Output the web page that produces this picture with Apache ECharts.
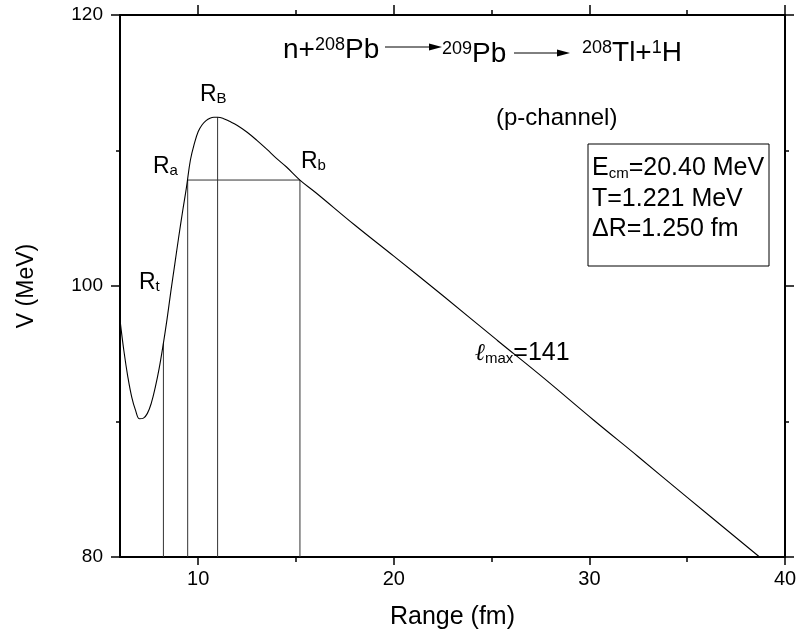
<!DOCTYPE html>
<html>
<head>
<meta charset="utf-8">
<script src="https://cdn.jsdelivr.net/npm/echarts@6/dist/echarts.min.js"></script>
<style>html,body{margin:0;padding:0;background:#fff;}#c{width:800px;height:641px;}</style>
</head>
<body>
<div id="c"></div>
<script>
// ---- data ----
const rangeFm = [6.0, 6.2, 6.4, 6.6, 6.8, 7.0, 7.2, 7.4, 7.6, 7.8, 8.0, 8.2, 8.4, 8.6, 8.8, 9.0, 9.2, 9.4, 9.6, 9.8, 10.0, 10.2, 10.4, 10.6, 10.8, 11.0, 11.3, 11.6, 12.0, 12.5, 13.0, 13.5, 14.0, 14.5, 15.2, 16.0, 18.0, 20.0, 22.5, 25.28, 27.5, 30.21, 32.5, 35.0, 38.7];
const potential = [97.5, 95.2, 93.3, 91.8, 90.8, 90.2, 90.25, 90.6, 91.35, 92.5, 93.9, 95.6, 97.5, 99.6, 101.6, 103.6, 105.5, 107.3, 109.3, 110.5, 111.4, 111.9, 112.2, 112.38, 112.45, 112.45, 112.35, 112.15, 111.85, 111.35, 110.75, 110.1, 109.42, 108.8, 107.82, 106.9, 104.5, 102.2, 99.3, 96.0, 93.4, 90.11, 87.4, 84.4, 80.0];
const markR = [8.22, 9.46, 10.99, 15.2];        // Rt, Ra, RB, Rb
const markV = [95.77, 107.82, 112.45, 107.82];  // curve value at each mark
const barrierLevel = 107.82;                    // horizontal line Ra..Rb
const xMajorTicks = [10, 20, 30, 40];
const xMinorTicks = [15, 25, 35];
const yMin = 80, yMax = 120, yStep = 20;
const xMin = 6, xMax = 40;

const FONT = 'Liberation Sans, Arial, sans-serif';
const chart = echarts.init(document.getElementById('c'), null, {renderer: 'canvas'});

const series = [{
  type: 'line', data: rangeFm.map((r, i) => [r, potential[i]]),
  smooth: 0.4, showSymbol: false, symbol: 'none',
  lineStyle: {color: '#000', width: 1.1}, z: 5
}];
markR.forEach((r, i) => {
  series.push({type: 'line', data: [[r, yMin], [r, markV[i]]], showSymbol: false, symbol: 'none',
    lineStyle: {color: '#333', width: 1}, z: 3});
});
series.push({type: 'line', data: [[markR[1], barrierLevel], [markR[3], barrierLevel]], showSymbol: false, symbol: 'none',
  lineStyle: {color: '#333', width: 1}, z: 3});

const axisLine = {show: true, lineStyle: {color: '#000', width: 2}};
function xAx(pos, ticks, len, labels, line) {
  return {type: 'value', position: pos, min: xMin, max: xMax, splitLine: {show: false},
    axisLine: line ? axisLine : {show: false},
    axisTick: {show: true, customValues: ticks, length: len, inside: false, lineStyle: {color: '#000', width: 1.5}},
    axisLabel: labels ? {show: true, customValues: ticks, color: '#000', fontSize: 20, fontFamily: FONT, margin: 12} : {show: false}
  };
}
const xAxes = [xAx('bottom', xMajorTicks, 8, true, true), xAx('bottom', xMinorTicks, 5, false, false),
               xAx('top', xMajorTicks, 10, false, true), xAx('top', xMinorTicks, 5, false, false)];
xAxes[0].name = 'Range (fm)';
xAxes[0].nameLocation = 'middle';
xAxes[0].nameGap = 48;
xAxes[0].nameTextStyle = {fontSize: 25, fontFamily: FONT, color: '#000'};

function yAx(pos, labels) {
  return {type: 'value', position: pos, min: yMin, max: yMax, interval: yStep, splitLine: {show: false},
    axisLine: axisLine,
    axisTick: {show: true, length: 9, inside: false, lineStyle: {color: '#000', width: 1.5}},
    minorTick: {show: true, splitNumber: 2, length: 4, lineStyle: {color: '#000', width: 1.5}},
    minorSplitLine: {show: false},
    axisLabel: labels ? {show: true, color: '#000', fontSize: 19, fontFamily: FONT, margin: 17} : {show: false}
  };
}
const yAxes = [yAx('left', true), yAx('right', false)];
yAxes[0].name = 'V (MeV)';
yAxes[0].nameLocation = 'middle';
yAxes[0].nameGap = 82;
yAxes[0].nameTextStyle = {fontSize: 23, fontFamily: FONT, color: '#000'};

const big = {fontSize: 25, fontFamily: FONT, color: '#000'};
const sub = {fontSize: 15, fontFamily: FONT, color: '#000', verticalAlign: 'bottom'};
const tBig = {fontSize: 28, fontFamily: FONT, color: '#000'};
const tSup = {fontSize: 18, fontFamily: FONT, color: '#000', verticalAlign: 'top'};
function rich(x, y, text, extra) {
  return {type: 'text', x: x, y: y, z: 20, style: Object.assign({text: text, fontFamily: FONT, fontSize: 25,
    rich: {a: big, b: sub, ta: tBig, ts: tSup, r: {fontSize: 23, fontFamily: FONT, color: '#000'}, rs: {fontSize: 15, fontFamily: FONT, color: '#000', verticalAlign: 'bottom'}}}, extra || {})};
}
function arrow(x1, x2, y) {
  return [
    {type: 'line', shape: {x1: x1, y1: y, x2: x2 - 10, y2: y}, style: {stroke: '#000', lineWidth: 1}, z: 20},
    {type: 'polygon', shape: {points: [[x2 - 13, y - 3.5], [x2, y], [x2 - 13, y + 3.5]]}, style: {fill: '#000'}, z: 20}
  ];
}

const graphic = [
  rich(283, 36, '{ta|n+}{ts|208}{ta|Pb}'),
  rich(442, 40, '{ts|209}{ta|Pb}'),
  rich(582, 39, '{ts|208}{ta|Tl+}{ts|1}{ta|H}'),
  ...arrow(385, 442, 47),
  ...arrow(514, 570, 53),
  {type: 'text', x: 496, y: 106, z: 20, style: {text: '(p-channel)', fontFamily: FONT, fontSize: 24, fill: '#000'}},
  {type: 'rect', shape: {x: 588, y: 144, width: 181, height: 122}, style: {fill: '#fff', stroke: '#000', lineWidth: 1}, z: 15},
  rich(592, 156, '{a|E}{b|cm}{a|=20.40 MeV}'),
  rich(592, 187, '{a|T=1.221 MeV}'),
  rich(592, 217, '{a|ΔR=1.250 fm}'),
  rich(200, 83, '{r|R}{rs|B}'),
  rich(153, 155, '{r|R}{rs|a}'),
  rich(301, 150, '{r|R}{rs|b}'),
  rich(139, 271, '{r|R}{rs|t}'),
  rich(475, 341, '{l|ℓ}{b|max}{a|=141}', {rich: {l: {fontSize: 24, fontFamily: 'DejaVu Serif', fontStyle: 'italic', color: '#555'}, b: sub, a: big}})
];

chart.setOption({
  animation: false,
  backgroundColor: '#fff',
  grid: {left: 120, right: 15, top: 15, bottom: 84, containLabel: false},
  xAxis: xAxes,
  yAxis: yAxes,
  series: series,
  graphic: graphic
});
</script>
</body>
</html>
